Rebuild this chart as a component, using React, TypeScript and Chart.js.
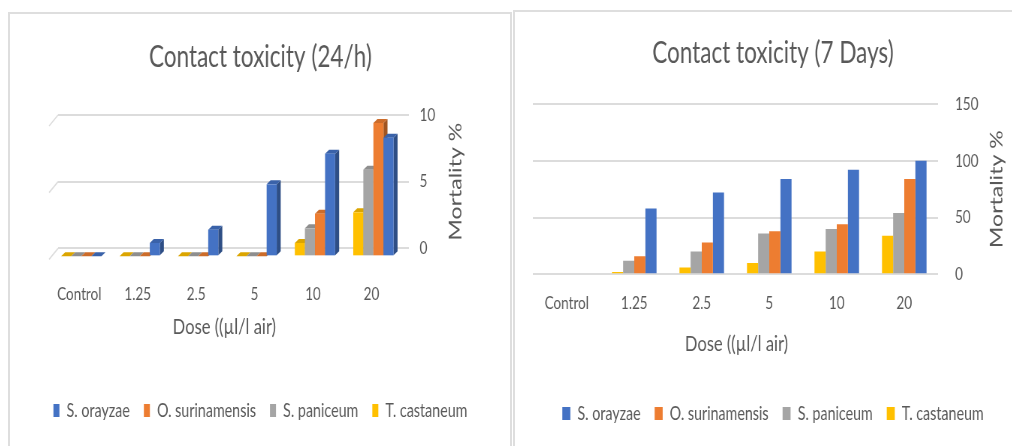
import React, { useEffect, useRef } from "react";
import { Chart, registerables } from "chart.js";

Chart.register(...registerables);

const FONT_FAMILY = 'Lato, "Open Sans", "Liberation Sans", sans-serif';
const TEXT_COLOR = "#595959";
const GRID_COLOR = "#dcdcdc";
// Both panels are rendered wide and squeezed horizontally, giving tall narrow lettering.
const SQUEEZE = 0.75;
const wx = (v: number) => v / SQUEEZE;

Chart.defaults.font.family = FONT_FAMILY;
Chart.defaults.color = TEXT_COLOR;

// Shared categories and series
const doses = ["Control", "1.25", "2.5", "5", "10", "20"];
const speciesNames = ["S. orayzae", "O. surinamensis", "S. paniceum", "T. castaneum"];
const speciesColors = ["#4472C4", "#ED7D31", "#A5A5A5", "#FFC000"];

// Mortality % after 24 h
const dayOrayzae = [0, 1, 2, 5.4, 7.7, 8.9];
const daySurinamensis = [0, 0, 0, 0, 3.2, 10];
const dayPaniceum = [0, 0, 0, 0, 2.1, 6.5];
const dayCastaneum = [0, 0, 0, 0, 1, 3.3];
const dayTicks = [0, 5, 10];

// Mortality % after 7 days
const weekOrayzae = [0, 58, 72, 84, 92, 100];
const weekSurinamensis = [0, 16, 28, 38, 44, 84];
const weekPaniceum = [0, 12, 20, 36, 40, 54];
const weekCastaneum = [0, 2, 6, 10, 20, 34];
const weekTicks = [0, 50, 100, 150];

const doseTitle = "Dose ((µl/l air)";
const mortalityTitle = "Mortality %";

function shade(hex: string, f: number) {
  const n = parseInt(hex.slice(1), 16);
  const r = Math.round(((n >> 16) & 255) * f);
  const g = Math.round(((n >> 8) & 255) * f);
  const b = Math.round((n & 255) * f);
  return `rgb(${r},${g},${b})`;
}

// Datasets are listed castaneum -> orayzae so clusters read yellow, gray, orange, blue;
// the legend is reversed to list orayzae first.
function buildDatasets(series: number[][]) {
  const order = [3, 2, 1, 0];
  return order.map((i) => ({
    label: speciesNames[i],
    data: series[i],
    backgroundColor: speciesColors[i],
    borderWidth: 0,
    xAxisID: "x",
    yAxisID: "y",
  }));
}

// Axis titles: the dose title under the category labels, and the mortality title
// rotated to read bottom-to-top beside the right-hand ticks.
const axisTitles = {
  id: "axisTitles",
  afterDraw(chart: any, _args: any, opts: any) {
    const { ctx, chartArea } = chart;
    ctx.save();
    ctx.fillStyle = TEXT_COLOR;
    ctx.textAlign = "center";
    ctx.textBaseline = "middle";

    ctx.font = `${opts.doseSize}px ${FONT_FAMILY}`;
    ctx.fillText(
      doseTitle,
      (chartArea.left + chartArea.right) / 2 + opts.doseDx,
      chartArea.bottom + opts.doseDy
    );

    ctx.translate(chartArea.right + opts.sideOffset, (chartArea.top + chartArea.bottom) / 2);
    ctx.rotate(-Math.PI / 2);
    ctx.font = `${opts.sideSize}px ${FONT_FAMILY}`;
    ctx.fillText(mortalityTitle, 0, 0);
    ctx.restore();
  },
};

// Gives the 24 h chart its 3-D look: columns stand in front of the back wall
// with a top and a side face; the side wall edge is drawn at each grid line.
const columns3d = {
  id: "columns3d",
  beforeDatasetsDraw(chart: any, _args: any, opts: any) {
    const { ctx, chartArea } = chart;
    const yScale = chart.scales.y;
    ctx.save();
    ctx.strokeStyle = GRID_COLOR;
    ctx.lineWidth = 1.5;
    for (const t of yScale.ticks) {
      const py = yScale.getPixelForValue(t.value);
      ctx.beginPath();
      ctx.moveTo(chartArea.left, py);
      ctx.lineTo(chartArea.left + opts.wallX, py + opts.wallY);
      ctx.stroke();
    }
    ctx.restore();
  },
  beforeDatasetDraw() {
    return false;
  },
  afterDatasetsDraw(chart: any, _args: any, opts: any) {
    const { ctx } = chart;
    const metas = chart.getSortedVisibleDatasetMetas();
    const count = chart.data.labels.length;
    const { shiftX, shiftY, depthX, depthY } = opts;
    ctx.save();
    for (let i = 0; i < count; i++) {
      for (const meta of metas) {
        const el = meta.data[i];
        const color = chart.data.datasets[meta.index].backgroundColor as string;
        const left = el.x - el.width / 2 + shiftX;
        const right = el.x + el.width / 2 + shiftX;
        const top = el.y + shiftY;
        const bottom = el.base + shiftY;
        // side face
        ctx.fillStyle = shade(color, 0.68);
        ctx.beginPath();
        ctx.moveTo(right, top);
        ctx.lineTo(right + depthX, top - depthY);
        ctx.lineTo(right + depthX, bottom - depthY);
        ctx.lineTo(right, bottom);
        ctx.closePath();
        ctx.fill();
        // top face
        ctx.fillStyle = shade(color, 0.86);
        ctx.beginPath();
        ctx.moveTo(left, top);
        ctx.lineTo(left + depthX, top - depthY);
        ctx.lineTo(right + depthX, top - depthY);
        ctx.lineTo(right, top);
        ctx.closePath();
        ctx.fill();
        // front face
        ctx.fillStyle = color;
        ctx.fillRect(left, top, right - left, bottom - top);
      }
    }
    ctx.restore();
  },
};

function makeConfig(p: {
  title: string;
  series: number[][];
  ticks: number[];
  leftWidth: number;
  rightWidth: number;
  xHeight: number;
  tickPadX: number;
  labelOffset: number;
  titlePadTop: number;
  titlePadBottom: number;
  bottomPad: number;
  yTickPad: number;
  categoryPercentage: number;
  boxWidth: number;
  titles: any;
  plugins: any[];
  extra: any;
}) {
  return {
    type: "bar",
    data: { labels: doses, datasets: buildDatasets(p.series) },
    plugins: p.plugins,
    options: {
      animation: false,
      responsive: true,
      maintainAspectRatio: false,
      layout: { padding: { top: 0, left: 0, right: 0, bottom: p.bottomPad } },
      datasets: {
        bar: { barPercentage: 1, categoryPercentage: p.categoryPercentage },
      },
      scales: {
        x: {
          grid: { display: false, drawTicks: false },
          border: { display: false },
          ticks: {
            padding: p.tickPadX,
            labelOffset: p.labelOffset,
            color: TEXT_COLOR,
            font: { size: 18 },
            maxRotation: 0,
          },
          afterFit: (s: any) => {
            s.height = p.xHeight;
          },
        },
        y: {
          position: "right",
          min: p.ticks[0],
          max: p.ticks[p.ticks.length - 1],
          afterBuildTicks: (s: any) => {
            s.ticks = p.ticks.map((v) => ({ value: v }));
          },
          grid: { color: GRID_COLOR, lineWidth: 2, drawTicks: false },
          border: { display: false },
          ticks: { padding: p.yTickPad, color: TEXT_COLOR, font: { size: 18 } },
          afterFit: (s: any) => {
            s.width = p.rightWidth;
          },
        },
        gutter: {
          type: "linear",
          position: "left",
          display: true,
          grid: { display: false, drawTicks: false },
          border: { display: false },
          ticks: { display: false },
          afterFit: (s: any) => {
            s.width = p.leftWidth;
          },
        },
      },
      plugins: {
        title: {
          display: true,
          text: p.title,
          color: TEXT_COLOR,
          font: { size: 30, weight: "normal" },
          padding: { top: p.titlePadTop, bottom: p.titlePadBottom },
        },
        legend: {
          position: "bottom",
          reverse: true,
          labels: {
            boxWidth: p.boxWidth,
            boxHeight: 13,
            padding: wx(14),
            color: TEXT_COLOR,
            font: { size: 19 },
          },
        },
        tooltip: { enabled: false },
        axisTitles: p.titles,
        ...p.extra,
      },
    },
  };
}

function ChartBox({
  config,
  left,
  top,
  width,
  height,
}: {
  config: any;
  left: number;
  top: number;
  width: number;
  height: number;
}) {
  const ref = useRef<HTMLCanvasElement | null>(null);
  useEffect(() => {
    const chart = new Chart(ref.current as HTMLCanvasElement, config);
    return () => chart.destroy();
  }, []);
  return (
    <div
      style={{
        position: "absolute",
        left,
        top,
        width: wx(width),
        height,
        transform: `scaleX(${SQUEEZE})`,
        transformOrigin: "0 0",
      }}
    >
      <canvas ref={ref} />
    </div>
  );
}

export default function App() {
  const dayConfig = makeConfig({
    title: "Contact toxicity (24/h)",
    series: [dayOrayzae, daySurinamensis, dayPaniceum, dayCastaneum],
    ticks: dayTicks,
    leftWidth: wx(48),
    rightWidth: wx(102),
    xHeight: 134,
    tickPadX: 35,
    labelOffset: wx(-8),
    titlePadTop: 25,
    titlePadBottom: 40,
    bottomPad: 16,
    yTickPad: wx(11),
    categoryPercentage: 0.69,
    boxWidth: wx(6),
    titles: { doseSize: 22, doseDx: wx(-9), doseDy: 79, sideOffset: wx(47), sideSize: 23 },
    plugins: [columns3d, axisTitles],
    extra: {
      columns3d: {
        shiftX: wx(-6),
        shiftY: 8,
        depthX: wx(4),
        depthY: 4,
        wallX: wx(-9),
        wallY: 11,
      },
    },
  });

  const weekConfig = makeConfig({
    title: "Contact toxicity (7 Days)",
    series: [weekOrayzae, weekSurinamensis, weekPaniceum, weekCastaneum],
    ticks: weekTicks,
    leftWidth: wx(18),
    rightWidth: wx(93),
    xHeight: 111,
    tickPadX: 18,
    labelOffset: 0,
    titlePadTop: 23,
    titlePadBottom: 33,
    bottomPad: 13,
    yTickPad: wx(17),
    categoryPercentage: 0.66,
    boxWidth: wx(8),
    titles: { doseSize: 22, doseDx: wx(1), doseDy: 70, sideOffset: wx(59), sideSize: 23 },
    plugins: [axisTitles],
    extra: {},
  });

  const border = "2px solid #dedede";

  return (
    <div
      style={{
        position: "absolute",
        left: 0,
        top: 0,
        width: 1012,
        height: 446,
        overflow: "hidden",
        background: "#ffffff",
      }}
    >
      <div
        style={{
          position: "absolute",
          left: 8,
          top: 12,
          width: 504,
          height: 440,
          boxSizing: "border-box",
          borderTop: border,
          borderLeft: border,
          borderRight: border,
        }}
      />
      <div
        style={{
          position: "absolute",
          left: 513,
          top: 10,
          width: 520,
          height: 440,
          boxSizing: "border-box",
          borderTop: border,
          borderLeft: border,
        }}
      />
      <ChartBox config={dayConfig} left={10} top={14} width={500} height={432} />
      <ChartBox config={weekConfig} left={515} top={12} width={516} height={434} />
    </div>
  );
}
